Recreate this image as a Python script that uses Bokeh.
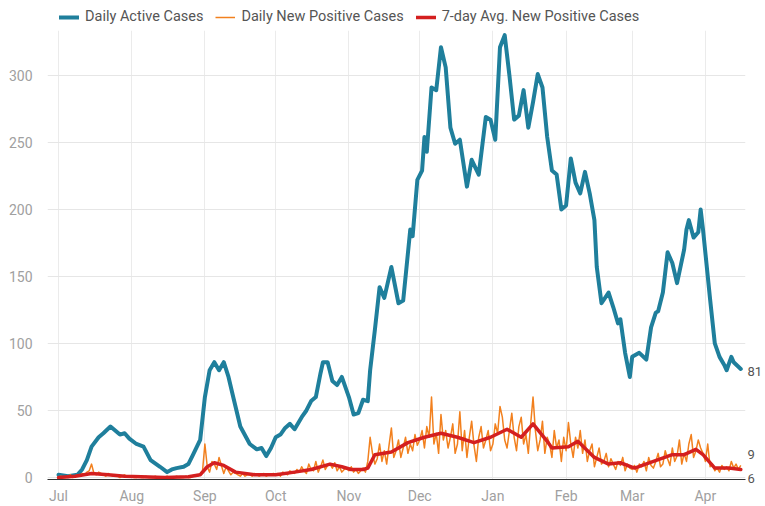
import datetime as dt
from bokeh.plotting import figure
from bokeh.layouts import column
from bokeh.models import (Range1d, DatetimeTickFormatter, MonthsTicker, Legend,
                          LegendItem, FixedTicker, LinearAxis)
from bokeh.embed import file_html
from bokeh.resources import INLINE

start = dt.datetime(2020, 7, 1)

# Daily Active Cases (day offset from 2020-07-01, value)
active_day = [0, 4, 8, 10, 12, 14, 17, 19, 22, 24, 26, 28, 30, 33, 36, 39, 43, 46, 48, 50,
              53, 55, 57, 60, 62, 64, 66, 68, 70, 72, 74, 77, 81, 84, 86, 88, 90, 92, 94, 96,
              98, 100, 103, 105, 107, 109, 111, 112, 114, 116, 118, 120, 121, 123, 125, 127,
              129, 131, 132, 134, 136, 138, 141, 144, 146, 149, 150, 152, 154, 155, 156, 158,
              160, 162, 164, 166, 168, 170, 173, 175, 178, 181, 183, 185, 187, 189, 191, 193,
              195, 197, 199, 201, 203, 205, 207, 209, 211, 213, 215, 217, 219, 221, 223, 225,
              227, 228, 230, 233, 235, 237, 238, 240, 242, 243, 246, 249, 251, 253, 254, 256,
              258, 260, 262, 265, 266, 267, 269, 271, 272, 273, 276, 278, 280, 282, 283, 285,
              286, 289]
active_val = [2, 1, 2, 6, 13, 23, 30, 33, 38, 35, 32, 33, 29, 25, 23, 13, 8, 4, 6, 7,
              8, 10, 17, 28, 60, 80, 86, 80, 86, 75, 60, 38, 25, 21, 22, 16, 22, 30, 32, 37,
              40, 36, 45, 50, 57, 60, 78, 86, 86, 72, 69, 75, 70, 60, 47, 48,
              58, 57, 80, 110, 142, 134, 157, 130, 132, 185, 180, 222, 229, 254, 243, 291,
              289, 321, 306, 261, 249, 252, 217, 237, 226, 269, 267, 252, 321, 330, 300, 267,
              270, 289, 261, 280, 301, 291, 254, 229, 226, 200, 203, 238, 220, 212, 228, 212,
              192, 157, 130, 138, 127, 115, 118, 93, 75, 90, 93, 88, 112, 123, 124, 138,
              168, 160, 145, 170, 185, 192, 179, 183, 200, 185, 133, 100, 90, 84, 80, 90,
              86, 81]

# Daily New Positive Cases, one value per day from 2020-07-01
new_jul = [0, 1, 0, 0, 1, 2, 0, 1, 2, 1, 3, 2, 4, 5, 10, 3, 2, 4, 3, 2, 1, 3, 2, 1, 2, 1, 0, 1, 2, 1, 1]
new_aug = [1, 0, 0, 1, 0, 0, 1, 0, 0, 0, 1, 0, 0, 0, 0, 1, 0, 0, 0, 1, 0, 0, 0, 1, 0, 0, 1, 2, 1, 3, 5]
new_sep = [25, 8, 4, 12, 10, 6, 15, 9, 3, 8, 5, 2, 4, 3, 2, 1, 3, 1, 2, 2, 1, 3, 2, 1, 2, 3, 1, 2, 2, 3]
new_oct = [2, 3, 1, 4, 3, 2, 5, 4, 3, 6, 4, 8, 5, 3, 10, 6, 5, 12, 4, 8, 13, 6, 9, 10, 7, 11, 5, 8, 4, 6, 7]
new_nov = [5, 8, 4, 6, 3, 5, 7, 4, 12, 30, 18, 10, 14, 25, 12, 20, 10, 24, 37, 15, 20, 28, 15, 22, 30, 18, 25, 20, 32, 24]
new_dec = [28, 35, 22, 38, 30, 60, 25, 33, 18, 47, 28, 35, 22, 30, 40, 18, 25, 49, 20, 35, 15, 30, 42, 24, 12, 30, 38, 22, 28, 35, 20]
new_jan = [25, 40, 33, 53, 45, 28, 22, 35, 48, 30, 20, 38, 45, 25, 32, 18, 40, 60, 35, 20, 28, 42, 18, 30, 25, 15, 35, 22, 28, 12, 30]
new_feb = [20, 41, 25, 15, 30, 22, 35, 18, 28, 12, 20, 25, 8, 15, 22, 10, 12, 18, 8, 14, 10, 6, 12, 9, 15, 5, 10, 7]
new_mar = [6, 9, 4, 10, 8, 12, 5, 15, 9, 7, 12, 18, 8, 10, 20, 14, 9, 22, 12, 16, 28, 10, 18, 12, 25, 32, 15, 20, 28, 22, 18]
new_apr = [12, 25, 8, 10, 5, 7, 4, 9, 6, 8, 5, 12, 7, 10, 6, 9]
new_pos = new_jul + new_aug + new_sep + new_oct + new_nov + new_dec + new_jan + new_feb + new_mar + new_apr

# 7-day Avg. New Positive Cases (day offset, value)
avg_day = [0, 7, 14, 21, 28, 35, 45, 55, 60, 63, 66, 70, 75, 83, 92, 100, 107, 115, 120, 124,
           129, 131, 134, 141, 148, 155, 162, 169, 176, 183, 190, 196, 201, 207, 209, 216, 220,
           227, 233, 238, 244, 252, 260, 265, 270, 273, 278, 284, 289]
avg_val = [0, 1, 3, 2, 1, 0.5, 0, 0.5, 2, 8, 11, 9, 4, 2, 2, 4, 6, 10, 8, 6,
           6, 7, 17, 19, 26, 30, 33, 30, 26, 30, 36, 30, 40, 27, 22, 23, 27,
           15, 10, 11, 7, 12, 17, 17, 21, 17, 7, 7, 6]

series_names = ["Daily Active Cases", "Daily New Positive Cases", "7-day Avg. New Positive Cases"]
y_ticks = [0, 50, 100, 150, 200, 250, 300]
end_labels = ["81", "9", "6"]

EPOCH = dt.datetime(1970, 1, 1)


def d(n):
    return start + dt.timedelta(days=n)


def ms(n):
    return (d(n) - EPOCH).total_seconds() * 1000.0


x_active = [d(n) for n in active_day]
x_new = [d(n) for n in range(len(new_pos))]
x_avg = [d(n) for n in avg_day]

FONT = "Roboto"
X0, X1 = -4.67, 291.0   # plotted span in days
STYLES = [dict(line_color="#1f7f9c", line_width=4, line_join="round", line_cap="round"),
          dict(line_color="#f2801e", line_width=1.5, line_join="round"),
          dict(line_color="#d41f1f", line_width=3.5, line_join="round", line_cap="round")]

# ---------------- main chart ----------------
p = figure(width=765, height=476, x_axis_type="datetime", output_backend="svg",
           toolbar_location=None,
           x_range=Range1d(ms(X0), ms(X1)), y_range=Range1d(-1.5, 333.5),
           min_border_left=47, min_border_right=15, min_border_top=0, min_border_bottom=20)
p.outline_line_color = None
p.background_fill_color = "white"

p.xgrid.grid_line_color = "#ebebeb"
p.ygrid.grid_line_color = "#e6e6e6"
p.xaxis.ticker = MonthsTicker(months=list(range(1, 13)))
p.xaxis.formatter = DatetimeTickFormatter(months="%b", days="%b", years="%b")
p.yaxis.ticker = FixedTicker(ticks=y_ticks)

# end-of-series value labels on a right axis, nudged apart so they don't overlap
label_pos = [int(active_val[-1]) - 2, int(new_pos[-1]) + 8, int(avg_val[-1]) - 7]
raxis = LinearAxis(ticker=FixedTicker(ticks=label_pos),
                   major_label_overrides={k: t for k, t in zip(label_pos, end_labels)})
p.add_layout(raxis, "right")

for ax in (p.xaxis[0], p.yaxis[0], raxis):
    ax.major_tick_line_color = None
    ax.minor_tick_line_color = None
    ax.major_label_text_font = FONT
    ax.major_label_text_font_size = "14px"
    ax.major_label_text_color = "#a0a0a0"
p.xaxis.axis_line_color = "#333333"
p.xaxis.axis_line_width = 1
p.yaxis.axis_line_color = None
p.xaxis.major_label_standoff = 2
p.yaxis.major_label_standoff = 9
raxis.axis_line_color = None
raxis.major_tick_out = 0
raxis.major_tick_in = 0
raxis.minor_tick_out = 0
raxis.minor_tick_in = 0
raxis.major_label_standoff = 2
raxis.major_label_text_color = "#555555"
raxis.major_label_text_font_size = "13px"

p.line(x_active, active_val, **STYLES[0])
p.line(x_new, new_pos, **STYLES[1])
p.line(x_avg, avg_val, **STYLES[2])

# ---------------- legend strip ----------------
lg = figure(width=765, height=30, output_backend="svg", toolbar_location=None,
            x_axis_location=None, y_axis_location=None,
            x_range=Range1d(0, 1), y_range=Range1d(0, 1),
            min_border_left=0, min_border_right=0, min_border_top=0, min_border_bottom=0)
lg.grid.visible = False
lg.outline_line_color = None
# legend-only renderers, placed outside the strip's visible range
lg_renderers = [lg.line(x=[5, 6], y=[5, 6], **st) for st in STYLES]
legend = Legend(items=[LegendItem(label=n, renderers=[r]) for n, r in zip(series_names, lg_renderers)],
                orientation="horizontal", location=(12, 5),
                border_line_color=None, background_fill_alpha=0,
                label_text_font=FONT, label_text_font_size="14.5px", label_text_color="#555555",
                glyph_width=20, glyph_height=16, label_height=16, spacing=12, label_standoff=6,
                padding=0, margin=0)
lg.add_layout(legend, "center")

layout = column(lg, p, spacing=0)
open("out.html", "w").write(file_html(layout, INLINE))
